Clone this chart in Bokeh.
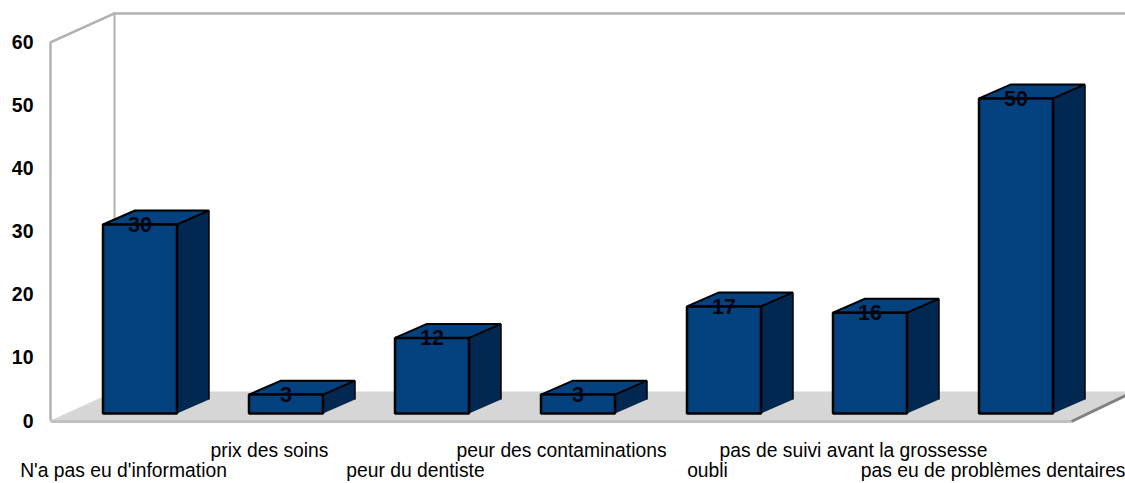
from bokeh.plotting import figure
from bokeh.models import Range1d, LinearAxis, FixedTicker, ColumnDataSource
from bokeh.core.properties import value
from bokeh.embed import file_html
from bokeh.resources import INLINE

categories = ["N'a pas eu d'information", "prix des soins", "peur du dentiste",
              "peur des contaminations", "oubli", "pas de suivi avant la grossesse",
              "pas eu de problèmes dentaires"]
values = [30, 3, 12, 3, 17, 16, 50]
y_ticks = [0, 10, 20, 30, 40, 50, 60]

# scale: one category = 146 px, one value unit = 6.317 px
UX, UY = 146.0, 6.317
xs = list(range(len(values)))
bar_w = 74 / UX
bar_shift = 16.5 / UX
bar_base = 7 / UY
dx, dy = 32 / UX, 14 / UY
wall_dx, wall_dy = 64 / UX, 29 / UY
wall_left = -73 / UX
wall_right = 1002 / UX
ymax = y_ticks[-1]
FONT = "Liberation Sans"

p = figure(width=1125, height=483, output_backend="svg", toolbar_location=None,
           x_range=Range1d(-75 / UX, 1002 / UX), y_range=Range1d(-3 / UY, 421 / UY),
           min_border_left=48, min_border_right=0, min_border_top=0, min_border_bottom=40,
           outline_line_color=None, background_fill_color="white", border_fill_color="white",
           x_axis_type=None, y_axis_type=None)
p.grid.visible = False

# y axis
ya = LinearAxis(ticker=FixedTicker(ticks=y_ticks), axis_line_color=None,
                major_tick_line_color=None, minor_tick_line_color=None,
                major_tick_out=0, major_tick_in=0, minor_tick_out=0, minor_tick_in=0,
                major_label_standoff=15, major_label_text_font=FONT,
                major_label_text_font_style="bold", major_label_text_font_size="19.5px",
                major_label_text_color="#000000")
p.add_layout(ya, "left")

# staggered category axes
for row, stand in ((1, 16), (0, -4)):
    ticks = [i for i in xs if i % 2 == row]
    ax = LinearAxis(ticker=FixedTicker(ticks=ticks),
                    major_label_overrides={i: categories[i] for i in ticks},
                    axis_line_color=None, major_tick_line_color=None, minor_tick_line_color=None,
                    major_tick_out=0, major_tick_in=0, minor_tick_out=0, minor_tick_in=0,
                    major_label_standoff=stand, major_label_text_font=FONT,
                    major_label_text_font_size="19.3px", major_label_text_color="#000000")
    p.add_layout(ax, "below")

# floor
right_cut = wall_right - 54 / UX
p.patch([wall_left, wall_left + wall_dx, wall_right, wall_right, right_cut],
        [0, wall_dy, wall_dy, 26 / UY, 0], fill_color="#d6d6d6", line_color=None)
p.line([wall_left, right_cut], [-1 / UY, -1 / UY], line_color="#c0c0c0", line_width=3)
p.line([right_cut, wall_right], [-1 / UY, 25 / UY], line_color="#808080", line_width=3)

# walls
p.line([wall_left, wall_left, wall_left + wall_dx, wall_right],
       [0, ymax, ymax + wall_dy, ymax + wall_dy], line_color="#b2b2b2", line_width=2.5)
p.line([wall_left, wall_left + wall_dx, wall_left + wall_dx],
       [ymax, ymax + wall_dy, wall_dy], line_color="#b2b2b2", line_width=2)

# bars
left = [x + bar_shift - bar_w / 2 for x in xs]
right = [x + bar_shift + bar_w / 2 for x in xs]
top = [v + bar_base for v in values]

side_x = [[r, r + dx, r + dx, r] for r in right]
side_y = [[bar_base, bar_base + dy, t + dy, t] for t in top]
p.patches(side_x, side_y, fill_color="#012850", line_color=None)
p.segment([r + dx for r in right], [bar_base + dy] * len(xs), [r + dx for r in right],
          [t + dy for t in top], line_color="#000000", line_width=1.5)

top_x = [[l, l + dx, r + dx, r] for l, r in zip(left, right)]
top_y = [[t, t + dy, t + dy, t] for t in top]
p.patches(top_x, top_y, fill_color="#03427f", line_color="#000000", line_width=2)

p.quad(left=left, right=right, bottom=[bar_base] * len(xs), top=top,
       fill_color="#03427f", line_color="#000000", line_width=2.5)

# value labels
src = ColumnDataSource(dict(x=[x + bar_shift for x in xs], y=top, t=[str(v) for v in values]))
p.text("x", "y", text="t", source=src, text_align="center", text_baseline="middle",
       text_font=value(FONT), text_font_style="bold", text_font_size="21.5px", text_color="#050510")

open("out.html", "w").write(file_html(p, INLINE))
